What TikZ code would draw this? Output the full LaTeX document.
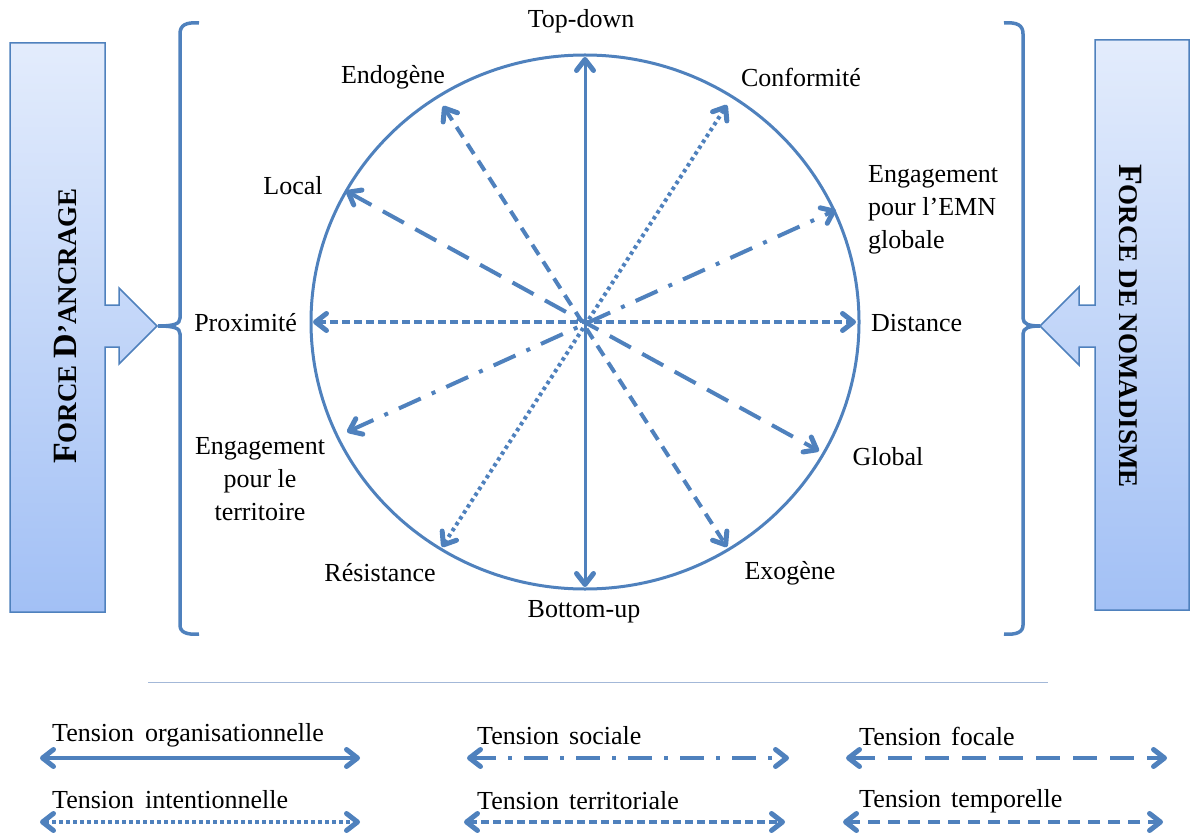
\documentclass[tikz,border=0pt]{standalone}
\usepackage{fontspec}
\setmainfont{Liberation Serif}
\usetikzlibrary{arrows.meta}
\definecolor{tblue}{HTML}{4F81BD}
\definecolor{boxtop}{HTML}{E3ECFC}
\definecolor{boxbot}{HTML}{A2C0F5}
\definecolor{sepline}{HTML}{A3B8D8}
\newcommand{\capbig}[1]{{\fontsize{34}{40}\selectfont #1}}
\newcommand{\capsmall}[1]{{\fontsize{27}{32}\selectfont #1}}
\begin{document}
\begin{tikzpicture}[x=1pt,y=-1pt,
  barb/.tip={Straight Barb[length=11pt,width=17pt,line width=5pt,line cap=round,line join=round]},
  tarrow/.style={draw=tblue, line width=4pt, barb-barb},
  organ/.style={tarrow, line width=3pt},
  intent/.style={tarrow, dash pattern=on 3.5pt off 3.5pt},
  sociale/.style={tarrow, dash pattern=on 24pt off 12pt on 4pt off 12pt},
  territ/.style={tarrow, dash pattern=on 8pt off 4pt},
  focale/.style={tarrow, dash pattern=on 24pt off 13pt},
  tempo/.style={tarrow, dash pattern=on 12pt off 8pt},
  lbl/.style={font=\fontsize{26}{33}\selectfont, inner sep=0pt},
  forcebox/.style={top color=boxtop, bottom color=boxbot, draw=tblue, line width=1.5pt, line join=miter},
  bracket/.style={draw=tblue, line width=3.5pt},
  forcelbl/.style={font=\bfseries, inner sep=0pt}
]
\useasboundingbox (0,0) rectangle (1190,834);

% ---- side boxes with their arrows ----
\shade[forcebox] (10,43) -- (105,43) -- (105,305) -- (119,305) -- (119,288)
  -- (157,326) -- (119,364) -- (119,347) -- (105,347) -- (105,612) -- (10,612) -- cycle;
\shade[forcebox] (1189,40) -- (1095,40) -- (1095,305) -- (1079,305) -- (1079,287)
  -- (1040,326) -- (1079,365) -- (1079,347) -- (1095,347) -- (1095,610) -- (1189,610) -- cycle;
\node[forcelbl, rotate=90] (ancrage) at (65,326)
  {\capbig{F}\capsmall{ORCE }\capbig{D}\capsmall{’ANCRAGE}};
\node[forcelbl, rotate=-90] (nomadisme) at (1130,326)
  {\capbig{F}\capsmall{ORCE DE NOMADISME}};

% ---- brackets ----
\draw[bracket] (199,23) .. controls (186,22) and (180,25) .. (180,34) -- (180,318)
  .. controls (180,324) and (174,326) .. (158,326)
  .. controls (174,326) and (180,328) .. (180,334) -- (180,625)
  .. controls (180,632) and (186,635) .. (199,634);
\draw[bracket] (1004,23) .. controls (1017,22) and (1023,25) .. (1023,34) -- (1023,318)
  .. controls (1023,324) and (1029,326) .. (1040,326)
  .. controls (1029,326) and (1023,328) .. (1023,334) -- (1023,625)
  .. controls (1023,632) and (1017,635) .. (1004,634);

% ---- circle ----
\draw[tblue, line width=3pt] (585,322) ellipse [x radius=274pt, y radius=267pt];

% ---- poles ----
\coordinate (topdown) at (585,57);
\coordinate (bottomup) at (585,587);
\coordinate (prox) at (313,322);
\coordinate (dist) at (856,322);
\coordinate (local) at (346,191);
\coordinate (global) at (819,451);
\coordinate (endo) at (443,106);
\coordinate (exo) at (727,547);
\coordinate (conf) at (727,105);
\coordinate (resist) at (442,547);
\coordinate (emn) at (836,210);
\coordinate (terr) at (347,432);

\draw[organ] (bottomup) -- (topdown);
\draw[territ] (prox) -- (dist);
\draw[focale] (local) -- (global);
\draw[tempo] (endo) -- (exo);
\draw[intent] (resist) -- (conf);
\draw[sociale] (terr) -- (emn);

% ---- pole labels ----
\node[lbl] (ltopdown) at (581,21) {Top-down};
\node[lbl] (lbottomup) at (584,612) {Bottom-up};
\node[lbl] (lendo) at (393,77) {Endogène};
\node[lbl] (lconf) at (801,77) {Conformité};
\node[lbl] (llocal) at (293,186) {Local};
\node[lbl, align=left, anchor=west] (lemn) at (868,210) {Engagement\\pour l’EMN\\globale};
\node[lbl, anchor=east] (lprox) at (297,323) {Proximité};
\node[lbl, anchor=west] (ldist) at (871,323) {Distance};
\node[lbl, align=center] (lterr) at (260,479) {Engagement\\pour le\\territoire};
\node[lbl] (lglobal) at (888,457) {Global};
\node[lbl] (lresist) at (380,573) {Résistance};
\node[lbl] (lexo) at (790,573) {Exogène};

% ---- separator ----
\coordinate (sepL) at (148,682);
\coordinate (sepR) at (1048,682);
\draw[sepline, line width=1pt] (sepL) -- (sepR);

% ---- legend ----
\node[lbl, anchor=west] (korg) at (52,735) {Tension\hspace{11pt}organisationnelle};
\coordinate (korgA) at (40,758); \coordinate (korgB) at (360,758);
\draw[organ, line width=4pt] (korgA) -- (korgB);

\node[lbl, anchor=west] (kint) at (52,800) {Tension\hspace{11pt}intentionnelle};
\coordinate (kintA) at (40,822); \coordinate (kintB) at (360,822);
\draw[intent] (kintA) -- (kintB);

\node[lbl, anchor=west] (ksoc) at (477,736) {Tension\hspace{10pt}sociale};
\coordinate (ksocA) at (467,758); \coordinate (ksocB) at (789,758);
\draw[sociale] (ksocA) -- (ksocB);

\node[lbl, anchor=west] (kter) at (477,801) {Tension\hspace{10pt}territoriale};
\coordinate (kterA) at (464,822); \coordinate (kterB) at (785,822);
\draw[territ] (kterA) -- (kterB);

\node[lbl, anchor=west] (kfoc) at (859,736) {Tension\hspace{10pt}focale};
\coordinate (kfocA) at (846,758); \coordinate (kfocB) at (1167,758);
\draw[focale] (kfocA) -- (kfocB);

\node[lbl, anchor=west] (ktem) at (859,801) {Tension\hspace{10pt}temporelle};
\coordinate (ktemA) at (843,822); \coordinate (ktemB) at (1163,822);
\draw[tempo] (ktemA) -- (ktemB);
\end{tikzpicture}
\end{document}
